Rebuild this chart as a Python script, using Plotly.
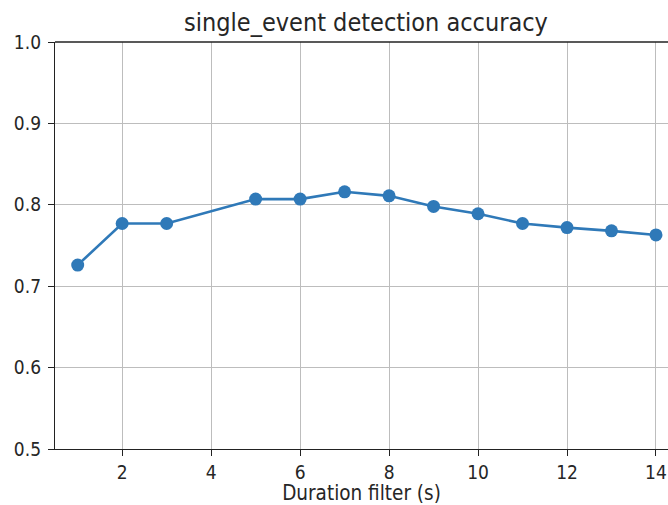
import plotly.graph_objects as go

duration = [1, 2, 3, 5, 6, 7, 8, 9, 10, 11, 12, 13, 14]
accuracy = [0.726, 0.777, 0.777, 0.807, 0.807, 0.816, 0.811, 0.798, 0.789, 0.777, 0.772, 0.768, 0.763]
x_ticks = [2, 4, 6, 8, 10, 12, 14]
y_ticks = [0.5, 0.6, 0.7, 0.8, 0.9, 1.0]

FONT = "DejaVu Sans Condensed, DejaVu Sans"
fig = go.Figure()
fig.add_trace(go.Scatter(
    x=duration, y=accuracy, mode="lines+markers",
    line=dict(color="#2f79b8", width=2.6),
    marker=dict(color="#2f79b8", size=13),
    showlegend=False,
))

fig.update_layout(
    width=668, height=505,
    margin=dict(l=55, r=0, t=42, b=56),
    paper_bgcolor="white", plot_bgcolor="white",
    font=dict(family=FONT, size=19, color="#262626"),
    title=dict(text="single_event detection accuracy", x=366/668, xref="container", xanchor="center",
               y=1 - 22/505, yanchor="middle", font=dict(family=FONT, size=25, color="#262626")),
)
fig.update_xaxes(
    range=[0.49, 14.27], tickvals=x_ticks, ticktext=[str(v) for v in x_ticks],
    showgrid=True, gridcolor="#bdbdbd", gridwidth=1.2,
    showline=True, linecolor="#222", linewidth=1.3,
    ticks="outside", ticklen=6, tickcolor="#222", tickwidth=1.2,
    zeroline=False,
    title=dict(text="Duration filter (s)", standoff=7, font=dict(family=FONT, size=20.5)),
)
fig.update_yaxes(
    range=[0.5, 1.0], tickvals=y_ticks, ticktext=[f"{v:.1f}" for v in y_ticks],
    showgrid=True, gridcolor="#bdbdbd", gridwidth=1.2,
    showline=True, linecolor="#222", linewidth=1.3, mirror=False,
    ticks="outside", ticklen=6, tickcolor="#222", tickwidth=1.2,
    ticklabelstandoff=3,
    zeroline=False,
)
fig.add_shape(type="line", xref="paper", yref="paper", x0=0, x1=1, y0=1, y1=1,
              line=dict(color="#222", width=1.3))
fig.write_html("out.html")
